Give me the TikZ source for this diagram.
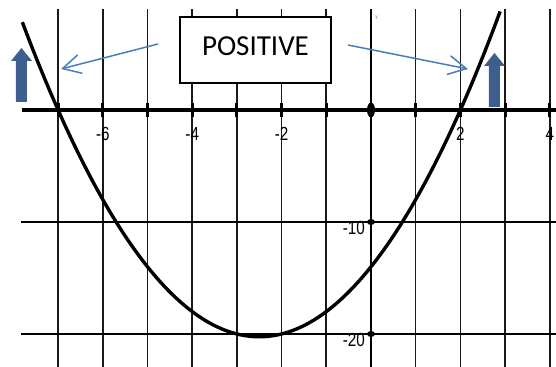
\documentclass[tikz,border=0pt]{standalone}
\usepackage{graphicx}
\usepackage{fontspec}
\setmainfont{Carlito}
\newfontfamily\ticksfont{Liberation Sans}
\usepackage{xcolor}
\usetikzlibrary{arrows.meta,shapes.geometric}

\definecolor{linkblue}{HTML}{4A7EBB}
\definecolor{markblue}{HTML}{3C5F8E}
\newcommand{\narrowlbl}[1]{\scalebox{0.8}[1]{#1}}

\begin{document}
\begin{tikzpicture}[
  x=44.7pt,y=11.2pt,
  vgrid/.style={black!90,line width=1.6pt},
  hgrid/.style={black,line width=2.6pt},
  axis/.style={black,line width=4pt},
  tickmark/.style={black,line width=3pt},
  curve/.style={black,line width=3.4pt},
  dot/.style={draw=none,fill=black,ellipse,inner sep=0pt},
  ticklbl/.style={font=\ticksfont\fontsize{19}{19}\selectfont,inner sep=0pt},
  pointer/.style={linkblue,line width=1.5pt,
                  -{Straight Barb[length=18pt,width=19pt,line width=1.5pt]}},
  callout/.style={draw,line width=1.5pt,fill=white,minimum width=151pt,
                  minimum height=66pt,font=\fontsize{29}{29}\selectfont,
                  text depth=7pt,inner sep=0pt},
  upmark/.pic={\fill[markblue] (-5.5pt,0) -- (-5.5pt,41pt) -- (-10.5pt,41pt)
               -- (0,54pt) -- (10.5pt,41pt) -- (5.5pt,41pt) -- (5.5pt,0) -- cycle;}
]
\useasboundingbox (-8.300,-22.946) rectangle (4.139,9.821);

%% Grid lines
\foreach \xv in {-7,-6,-5,-4,-3,-2,-1,1,2,3,4}
  \draw[vgrid] (\xv,-22.95) -- (\xv,9.02);
\foreach \yv in {-10,-20}
  \draw[hgrid] (-7.83,\yv) -- (4.139,\yv);

%% Axes and ticks
\draw[hgrid] (0,-22.95) -- (0,9.02);
\draw[axis] (-7.81,0) -- (4.139,0);
\foreach \xv in {-7,...,4}
  \draw[tickmark] (\xv,-0.63) -- (\xv,0.63);
\node[dot,minimum width=8pt,minimum height=15pt] (orig) at (0,0) {};
\node[dot,minimum width=8pt,minimum height=6pt] (dten) at (0,-10) {};
\node[dot,minimum width=8pt,minimum height=6pt] (dtwenty) at (0,-20) {};

%% Axis labels
\foreach \xv in {-6,-4,-2,2,4}
  \node[ticklbl,anchor=north] (xl\xv) at (\xv,-1.52) {\narrowlbl{\xv}};
\node[ticklbl,anchor=east] (yl10) at (-0.134,-10.54) {\narrowlbl{-10}};
\node[ticklbl,anchor=east] (yl20) at (-0.134,-20.54) {\narrowlbl{-20}};
\node[font=\ticksfont\fontsize{5}{5}\selectfont,text=black!60,inner sep=0pt]
  (ylbl) at (0.127,8.21) {y};

%% Parabola
\draw[curve,domain=-7.80:2.89,samples=120,smooth]
  plot (\x,{\x*\x+5*\x-14});

%% Markers
\pic at (-7.819,0.714) {upmark};
\pic at (2.763,0.268) {upmark};

%% Callout and pointers
\node[callout] (pos) at (-2.584,5.357) {POSITIVE};
\coordinate (ltail) at (-4.765,5.893);
\coordinate (lhead) at (-6.935,3.661);
\coordinate (rtail) at (-0.515,5.804);
\coordinate (rhead) at (2.170,3.661);
\draw[pointer] (ltail) -- (lhead);
\draw[pointer] (rtail) -- (rhead);
\end{tikzpicture}
\end{document}
